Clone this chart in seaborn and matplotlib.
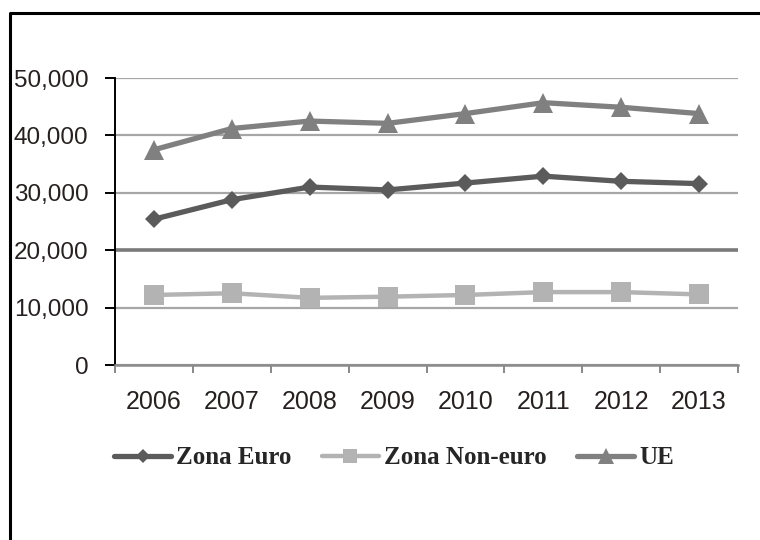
import matplotlib
matplotlib.use("Agg")
import matplotlib.pyplot as plt
import seaborn as sns
import pandas as pd
from matplotlib.lines import Line2D

years = ["2006", "2007", "2008", "2009", "2010", "2011", "2012", "2013"]
zona_euro = [25400, 28800, 31000, 30500, 31700, 32900, 32000, 31600]
zona_non_euro = [12200, 12500, 11700, 11900, 12200, 12700, 12700, 12300]
ue = [37500, 41200, 42500, 42100, 43800, 45700, 44900, 43800]

series_names = ["Zona Euro", "Zona Non-euro", "UE"]
series_values = [zona_euro, zona_non_euro, ue]
colors = ["#5b5b5b", "#b3b3b3", "#808080"]
markers = ["D", "s", "^"]
marker_sizes = [9, 14, 15]
line_widths = [3.8, 3.2, 3.8]

sns.set_theme(style="white")
plt.rcParams["font.family"] = ["Liberation Sans", "DejaVu Sans"]

fig = plt.figure(figsize=(7.6, 5.4), dpi=100)
ax = fig.add_axes([115 / 760, 1 - 365 / 540, (738 - 115) / 760, (365 - 78) / 540])

rows = []
for name, vals in zip(series_names, series_values):
    for i, v in enumerate(vals):
        rows.append({"pos": i, "year": years[i], "value": v, "serie": name})
df = pd.DataFrame(rows)

for name, col, mk, ms, lw in zip(series_names, colors, markers, marker_sizes, line_widths):
    sub = df[df["serie"] == name]
    sns.lineplot(data=sub, x="pos", y="value", ax=ax, color=col, marker=mk,
                 markersize=ms, linewidth=lw, markeredgewidth=0, zorder=3,
                 legend=False)

ax.set_xlim(-0.5, len(years) - 0.5)
ax.set_ylim(0, 50000)
ax.set_xlabel("")
ax.set_ylabel("")

# y axis
yt = [0, 10000, 20000, 30000, 40000, 50000]
ax.set_yticks(yt)
ax.set_yticklabels(["0", "10,000", "20,000", "30,000", "40,000", "50,000"])
ax.yaxis.grid(True, color="#a6a6a6", linewidth=1.6)
for tick, gl in zip(yt, ax.get_ygridlines()):
    if tick == 20000:
        gl.set_color("#7a7a7a")
        gl.set_linewidth(2.6)
ax.set_axisbelow(True)
ax.tick_params(axis="y", which="major", length=7, width=1.4, color="black",
               direction="out", pad=12, labelsize=17.5, labelcolor="#262020", left=True)

# x axis: labels centred, ticks on category boundaries
ax.set_xticks(range(len(years)))
ax.set_xticklabels(years)
ax.set_xticks([i - 0.5 for i in range(len(years) + 1)], minor=True)
ax.tick_params(axis="x", which="major", length=0, pad=18, labelsize=18,
               labelcolor="#262020")
ax.tick_params(axis="x", which="minor", length=6, width=1.4, color="#888888",
               direction="out", bottom=True)

for s in ["top", "right"]:
    ax.spines[s].set_visible(False)
ax.spines["left"].set_color("black")
ax.spines["left"].set_linewidth(1.4)
ax.spines["bottom"].set_color("#8a8a8a")
ax.spines["bottom"].set_linewidth(1.8)

# legend
handles = [Line2D([0], [0], color=c, marker=m, markersize=ms * 0.75, linewidth=lw,
                  markeredgewidth=0)
           for c, m, ms, lw in zip(colors, markers, marker_sizes, line_widths)]
fig.legend(handles, series_names, loc="center", bbox_to_anchor=(394 / 760, 1 - 458 / 540),
           ncol=3, frameon=False, handlelength=2.3, handletextpad=0.2, columnspacing=1.2,
           prop={"family": "Liberation Serif", "weight": "bold", "size": 18})

# outer frame, open to the right and bottom
fig.lines.append(Line2D([10 / 760, 10 / 760, 1.05], [-0.05, 1 - 13 / 540, 1 - 13 / 540],
                        transform=fig.transFigure, color="black", linewidth=2.2))

fig.savefig("out.png", dpi=100)
